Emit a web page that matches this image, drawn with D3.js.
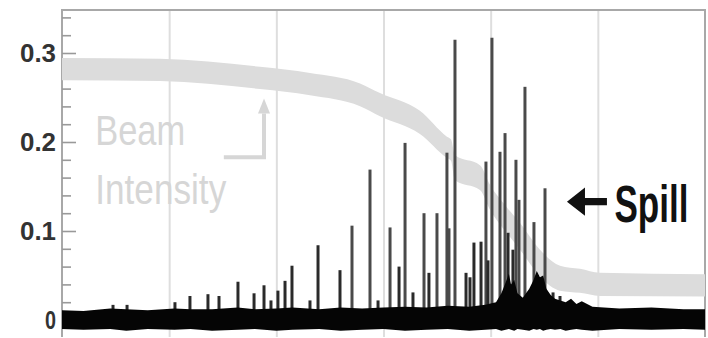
<!DOCTYPE html>
<html>
<head>
<meta charset="utf-8">
<script src="https://cdn.jsdelivr.net/npm/d3@7"></script>
<style>
  html, body { margin: 0; padding: 0; background: #fff; }
  svg { display: block; font-family: "Liberation Sans", Arial, sans-serif; }
</style>
</head>
<body>
<div id="chart"></div>
<script>
// y axis ticks
const yMajor = [0, 0.1, 0.2, 0.3];
const yLabels = ["0", "0.1", "0.2", "0.3"];
const yMinor = [0.02, 0.04, 0.06, 0.08, 0.12, 0.14, 0.16, 0.18, 0.22, 0.24, 0.26, 0.28, 0.32, 0.34];
const gridT = [1, 2, 3, 4, 5];

// beam intensity band (time, centre, half width)
const beamT    = [0, 0.914, 1.848, 2.314, 2.781, 2.967, 3.340, 3.592, 3.630, 3.667, 3.900, 3.994, 4.152, 4.274, 4.460, 4.647, 4.833, 5.020, 6.0];
const beamMid  = [0.282, 0.281, 0.272, 0.265, 0.253, 0.242, 0.222, 0.194, 0.191, 0.171, 0.160, 0.138, 0.112, 0.094, 0.064, 0.047, 0.044, 0.040, 0.039];
const beamHalf = [0.0125, 0.0125, 0.0125, 0.0125, 0.0128, 0.013, 0.013, 0.012, 0.012, 0.014, 0.014, 0.014, 0.0145, 0.015, 0.015, 0.014, 0.0135, 0.013, 0.0125];

// noise floor envelope
const noiseT  = [0, 0.2, 0.45, 0.6, 0.8, 1.05, 1.2, 1.4, 1.64, 1.8, 2.0, 2.15, 2.4, 2.6, 2.8, 3.0, 3.2, 3.4, 3.6, 3.8,
                 3.95, 4.05, 4.10, 4.14, 4.17, 4.19, 4.22, 4.25, 4.30, 4.36, 4.40, 4.43, 4.46, 4.49, 4.52, 4.56,
                 4.60, 4.65, 4.70, 4.75, 4.80, 4.85, 4.95, 5.2, 5.5, 5.8, 6.0];
const noiseHi = [0.011, 0.010, 0.013, 0.012, 0.011, 0.013, 0.012, 0.012, 0.014, 0.012, 0.013, 0.014, 0.012, 0.014, 0.013, 0.014, 0.015, 0.014, 0.016, 0.015,
                 0.017, 0.020, 0.030, 0.042, 0.052, 0.040, 0.045, 0.030, 0.025, 0.035, 0.045, 0.055, 0.048, 0.050, 0.035, 0.028,
                 0.024, 0.022, 0.020, 0.024, 0.018, 0.021, 0.015, 0.013, 0.014, 0.012, 0.012];
const noiseLo = [-0.010, -0.011, -0.010, -0.012, -0.010, -0.011, -0.010, -0.012, -0.011, -0.010, -0.012, -0.011, -0.010, -0.012, -0.011, -0.010, -0.012, -0.011, -0.010, -0.012,
                 -0.011, -0.010, -0.012, -0.011, -0.010, -0.011, -0.012, -0.010, -0.011, -0.012, -0.010, -0.011, -0.010, -0.012, -0.011, -0.010,
                 -0.011, -0.010, -0.012, -0.011, -0.010, -0.011, -0.012, -0.010, -0.011, -0.010, -0.011];

// spill spikes
const spikeT = [0.476, 0.607, 1.054, 1.194, 1.362, 1.465, 1.642, 1.792, 1.885, 1.950, 2.015, 2.081, 2.146, 2.314, 2.389, 2.594,
                2.706, 2.874, 2.949, 3.061, 3.145, 3.201, 3.275, 3.378, 3.424, 3.499, 3.592, 3.611, 3.667, 3.770, 3.807, 3.844,
                3.910, 3.956, 3.975, 4.012, 4.087, 4.134, 4.162, 4.208, 4.236, 4.264, 4.320, 4.404, 4.507, 4.582, 4.647];
const spikeV = [0.017, 0.017, 0.020, 0.027, 0.029, 0.027, 0.043, 0.030, 0.039, 0.022, 0.033, 0.044, 0.061, 0.022, 0.084, 0.056,
                0.106, 0.169, 0.022, 0.104, 0.060, 0.199, 0.031, 0.120, 0.053, 0.120, 0.188, 0.103, 0.315, 0.053, 0.048, 0.087,
                0.088, 0.178, 0.067, 0.317, 0.189, 0.210, 0.098, 0.079, 0.180, 0.135, 0.262, 0.110, 0.148, 0.031, 0.027];

const width = 708, height = 338;
const margin = { left: 62, right: 705, top: 10, bottom: 337 };

const svg = d3.select("#chart").append("svg")
  .attr("width", width)
  .attr("height", height);

const x = d3.scaleLinear().domain([0, 6]).range([margin.left, margin.right]);
const y = d3.scaleLinear().domain([0, 0.3]).range([320, 53]);

// vertical grid
svg.append("g")
  .attr("transform", `translate(0,${margin.bottom})`)
  .call(d3.axisBottom(x).tickValues(gridT).tickSize(-(margin.bottom - margin.top)).tickFormat(""))
  .call(g => g.select(".domain").remove())
  .selectAll(".tick line")
  .attr("stroke", "#dedede")
  .attr("stroke-width", 2);

// frame
svg.append("path")
  .attr("d", `M${margin.left},${margin.bottom}V${margin.top}H${margin.right}V${margin.bottom}`)
  .attr("fill", "none")
  .attr("stroke", "#a8a8a8")
  .attr("stroke-width", 2);

// y ticks
const yAxis = svg.append("g")
  .attr("transform", `translate(${margin.left},0)`)
  .call(d3.axisLeft(y).tickValues(yMajor).tickSizeInner(-14).tickSizeOuter(0).tickPadding(6)
    .tickFormat((d, i) => yLabels[i]));
yAxis.select(".domain").remove();
yAxis.selectAll(".tick line").attr("stroke", "#999").attr("stroke-width", 1.6);
yAxis.selectAll(".tick text")
  .attr("fill", "#333")
  .attr("font-size", 25)
  .attr("font-weight", "bold")
  .attr("font-family", "'Liberation Sans', Arial, sans-serif")
  .attr("textLength", (d, i) => i == 0 ? 11 : 36)
  .attr("lengthAdjust", "spacingAndGlyphs");

const minorAxis = svg.append("g")
  .attr("transform", `translate(${margin.left},0)`)
  .call(d3.axisLeft(y).tickValues(yMinor).tickSizeInner(-9).tickSizeOuter(0).tickFormat(""));
minorAxis.select(".domain").remove();
minorAxis.selectAll(".tick line").attr("stroke", "#999").attr("stroke-width", 1.6);

// beam intensity band
const beam = beamT.map((t, i) => ({ t, lo: beamMid[i] - beamHalf[i], hi: beamMid[i] + beamHalf[i] }));
svg.append("path")
  .datum(beam)
  .attr("fill", "#dcdcdc")
  .attr("d", d3.area()
    .x(d => x(d.t))
    .y0(d => y(d.lo))
    .y1(d => y(d.hi))
    .curve(d3.curveMonotoneX));

// spikes
const spikes = spikeT.map((t, i) => ({ t, v: spikeV[i] }));
svg.selectAll("line.spike")
  .data(spikes)
  .enter()
  .append("line")
  .attr("class", "spike")
  .attr("x1", d => x(d.t))
  .attr("x2", d => x(d.t))
  .attr("y1", y(0))
  .attr("y2", d => y(d.v))
  .attr("stroke", d => d.v > 0.1 ? "#4a4a4a" : "#2a2a2a")
  .attr("stroke-width", 3);

// noise floor
const noise = noiseT.map((t, i) => ({ t, hi: noiseHi[i], lo: noiseLo[i] }));
svg.append("path")
  .datum(noise)
  .attr("fill", "#050505")
  .attr("d", d3.area()
    .x(d => x(d.t))
    .y0(d => y(d.lo))
    .y1(d => y(d.hi))
    .curve(d3.curveLinear));

// "Beam Intensity" annotation
const beamLabelColor = "#d6d6d6";
svg.append("text")
  .attr("transform", `translate(${x(0.31)},${y(0.197)}) scale(1,1.2)`)
  .attr("font-size", 35)
  .attr("fill", beamLabelColor)
  .attr("textLength", 90)
  .attr("lengthAdjust", "spacingAndGlyphs")
  .text("Beam");
svg.append("text")
  .attr("transform", `translate(${x(0.31)},${y(0.130)}) scale(1,1.2)`)
  .attr("font-size", 35)
  .attr("fill", beamLabelColor)
  .attr("textLength", 131)
  .attr("lengthAdjust", "spacingAndGlyphs")
  .text("Intensity");

svg.append("path")
  .attr("d", `M${x(1.51)},${y(0.183)}H${x(1.885)}V${y(0.232)}`)
  .attr("fill", "none")
  .attr("stroke", beamLabelColor)
  .attr("stroke-width", 4);
svg.append("path")
  .attr("d", `M${x(1.885) - 6},${y(0.232)}L${x(1.885)},${y(0.249)}L${x(1.885) + 6},${y(0.232)}Z`)
  .attr("fill", beamLabelColor);

// "Spill" annotation
svg.append("path")
  .attr("d", `M${x(4.712)},${y(0.133)}L${x(4.880)},${y(0.149)}L${x(4.880)},${y(0.137)}L${x(5.085)},${y(0.137)}`
    + `L${x(5.085)},${y(0.129)}L${x(4.880)},${y(0.129)}L${x(4.880)},${y(0.117)}Z`)
  .attr("fill", "#111");
svg.append("text")
  .attr("transform", `translate(${x(5.155)},${y(0.110)}) scale(1,1.5)`)
  .attr("font-size", 35)
  .attr("font-weight", "bold")
  .attr("fill", "#111")
  .attr("textLength", 74)
  .attr("lengthAdjust", "spacingAndGlyphs")
  .text("Spill");
</script>
</body>
</html>
